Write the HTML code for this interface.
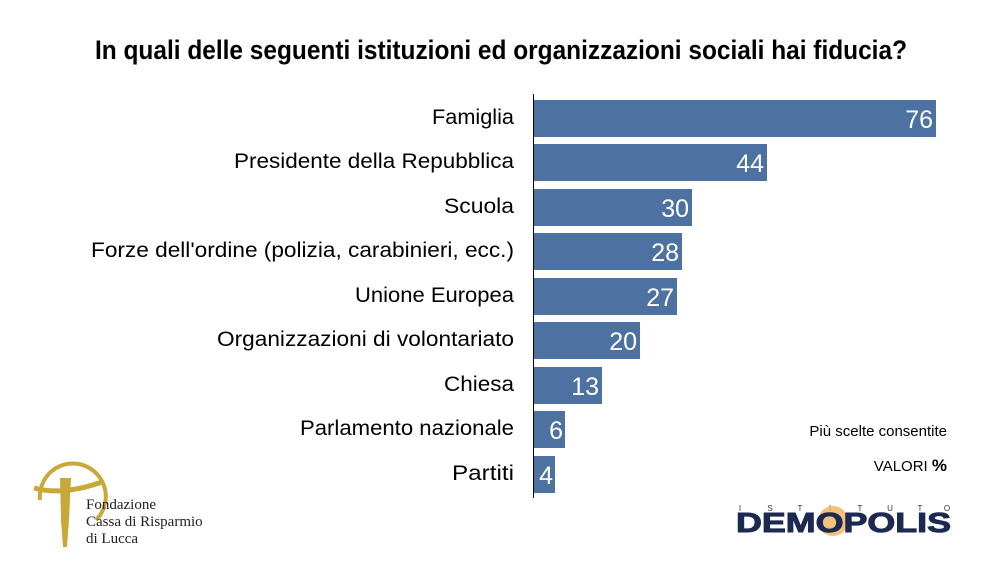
<!DOCTYPE html>
<html><head><meta charset="utf-8"><style>
body{margin:0;background:#fff;}
svg{display:block;font-family:"Liberation Sans",sans-serif;}
</style></head><body>
<svg width="1003" height="564" viewBox="0 0 1003 564" xmlns="http://www.w3.org/2000/svg">
<text x="501" y="59" text-anchor="middle" font-size="27" font-weight="bold" fill="#000" textLength="812" lengthAdjust="spacingAndGlyphs">In quali delle seguenti istituzioni ed organizzazioni sociali hai fiducia?</text>
<line x1="533.5" y1="94" x2="533.5" y2="498" stroke="#000" stroke-width="1"/>
<g fill="#4d71a0">
<rect x="534" y="100" width="402" height="37"/>
<rect x="534" y="144" width="233" height="37"/>
<rect x="534" y="189" width="158" height="37"/>
<rect x="534" y="233" width="148" height="37"/>
<rect x="534" y="278" width="143" height="37"/>
<rect x="534" y="322" width="106" height="37"/>
<rect x="534" y="367" width="68" height="37"/>
<rect x="534" y="411" width="31" height="37"/>
<rect x="534" y="456" width="21" height="37"/>
</g>
<g fill="#fff" font-size="25" text-anchor="end">
<text x="933" y="128">76</text>
<text x="764" y="172">44</text>
<text x="689" y="217">30</text>
<text x="679" y="261">28</text>
<text x="674" y="306">27</text>
<text x="637" y="350">20</text>
<text x="599" y="395">13</text>
<text x="563" y="439">6</text>
<text x="553" y="484">4</text>
</g>
<g fill="#000" font-size="21">
<text x="432" y="124" textLength="82" lengthAdjust="spacingAndGlyphs">Famiglia</text>
<text x="234" y="168" textLength="280" lengthAdjust="spacingAndGlyphs">Presidente della Repubblica</text>
<text x="444" y="213" textLength="70" lengthAdjust="spacingAndGlyphs">Scuola</text>
<text x="91" y="257" textLength="423" lengthAdjust="spacingAndGlyphs">Forze dell'ordine (polizia, carabinieri, ecc.)</text>
<text x="355" y="302" textLength="159" lengthAdjust="spacingAndGlyphs">Unione Europea</text>
<text x="217" y="346" textLength="297" lengthAdjust="spacingAndGlyphs">Organizzazioni di volontariato</text>
<text x="444" y="391" textLength="70" lengthAdjust="spacingAndGlyphs">Chiesa</text>
<text x="300" y="435" textLength="214" lengthAdjust="spacingAndGlyphs">Parlamento nazionale</text>
<text x="452" y="480" textLength="62" lengthAdjust="spacingAndGlyphs">Partiti</text>
</g>
<text x="947" y="436" text-anchor="end" font-size="15">Più scelte consentite</text>
<text x="947" y="471" text-anchor="end" font-size="15">VALORI <tspan font-weight="bold" font-size="17">%</tspan></text>
<g font-size="8" fill="#333" text-anchor="middle">
<text x="740" y="511">I</text><text x="770" y="511">S</text><text x="800" y="511">T</text><text x="830" y="511">I</text><text x="860" y="511">T</text><text x="890" y="511">U</text><text x="920" y="511">T</text><text x="947" y="511">O</text>
</g>
<circle cx="833" cy="521" r="15" fill="#f3b35a" opacity="0.8"/>
<text x="736" y="532" font-size="28" font-weight="900" fill="#1c2a52" stroke="#1c2a52" stroke-width="1" textLength="215" lengthAdjust="spacingAndGlyphs">DEMOPOLIS</text>
<g fill="none" stroke="#c9a83a">
<path d="M40 500 A33 33 0 1 1 96 520" stroke-width="4"/>
<path d="M34 488 Q62 496 102 482" stroke-width="5"/>
</g>
<path d="M60 478 L71 478 L69 520 L67 547 L63 547 L61 520 Z" fill="#c9a83a"/>
<g font-family="Liberation Serif,serif" font-size="15" fill="#222">
<text x="86" y="509">Fondazione</text>
<text x="86" y="526">Cassa di Risparmio</text>
<text x="86" y="543">di Lucca</text>
</g>
</svg>
</body></html>
